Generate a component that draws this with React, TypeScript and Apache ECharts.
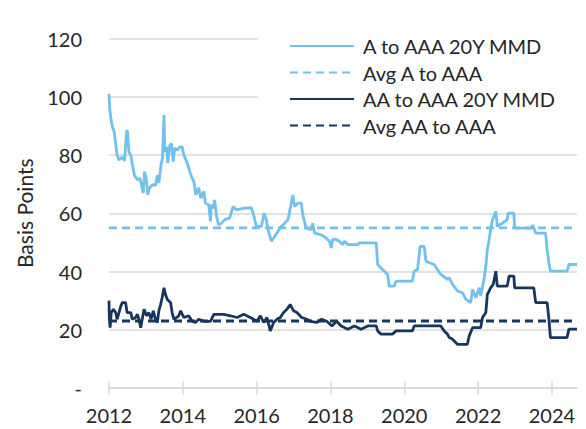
import React, { useEffect, useRef } from "react";
import * as echarts from "echarts";

const aYears = [2012.0, 2012.02, 2012.05, 2012.09, 2012.14, 2012.18, 2012.22, 2012.27, 2012.36, 2012.42, 2012.48, 2012.5, 2012.54, 2012.59, 2012.63, 2012.69, 2012.77, 2012.84, 2012.88, 2012.93, 2012.96, 2013.01, 2013.05, 2013.1, 2013.17, 2013.26, 2013.31, 2013.35, 2013.41, 2013.45, 2013.49, 2013.51, 2013.56, 2013.59, 2013.65, 2013.69, 2013.74, 2013.78, 2013.85, 2013.92, 2013.98, 2014.03, 2014.12, 2014.19, 2014.25, 2014.3, 2014.35, 2014.43, 2014.49, 2014.57, 2014.61, 2014.7, 2014.75, 2014.77, 2014.84, 2014.86, 2014.92, 2014.97, 2015.05, 2015.14, 2015.27, 2015.36, 2015.45, 2015.68, 2015.86, 2015.93, 2015.99, 2016.13, 2016.2, 2016.26, 2016.31, 2016.4, 2016.49, 2016.58, 2016.67, 2016.76, 2016.85, 2016.92, 2016.98, 2017.03, 2017.12, 2017.21, 2017.25, 2017.34, 2017.48, 2017.52, 2017.57, 2017.75, 2017.88, 2017.97, 2018.02, 2018.06, 2018.15, 2018.24, 2018.33, 2018.38, 2018.47, 2018.74, 2018.78, 2019.24, 2019.28, 2019.41, 2019.55, 2019.59, 2019.73, 2019.78, 2020.22, 2020.27, 2020.36, 2020.43, 2020.54, 2020.59, 2020.68, 2020.81, 2020.99, 2021.17, 2021.22, 2021.31, 2021.44, 2021.58, 2021.67, 2021.8, 2021.85, 2021.94, 2022.03, 2022.07, 2022.16, 2022.21, 2022.25, 2022.3, 2022.34, 2022.39, 2022.43, 2022.48, 2022.52, 2022.57, 2022.66, 2022.79, 2022.81, 2022.97, 2022.99, 2023.46, 2023.48, 2023.51, 2023.56, 2023.83, 2023.87, 2023.92, 2023.96, 2024.41, 2024.46, 2024.68];
const aValues = [101, 96, 92.6, 89.7, 88, 84, 80, 78.3, 79.3, 78, 88.5, 88, 81, 80, 77, 73, 71.5, 72, 69.7, 67, 74.3, 72, 66.3, 68.7, 69.7, 69.7, 73, 70.4, 76.6, 79, 93.7, 81, 82.8, 77.2, 83.4, 84, 77.7, 82.4, 81.7, 82.8, 82.8, 80, 77.2, 74.3, 72, 70.9, 66.3, 68.7, 65.2, 67.5, 63.5, 62.9, 57.2, 62.9, 61.8, 64.6, 58.5, 56, 56.6, 57.8, 58.4, 62.3, 61.2, 61.8, 61.8, 58.9, 55.5, 55.5, 60, 57.8, 54.4, 50.4, 52, 53.8, 55.5, 56.6, 57.8, 62.3, 66.3, 62.3, 63.5, 63.5, 59.5, 54.9, 54.4, 56.6, 53.2, 52.6, 51.5, 50.4, 48.1, 51, 51, 50.4, 49.2, 50.4, 49.2, 49.2, 49.8, 49.8, 42.4, 40.7, 39, 35, 35, 36.7, 36.7, 40.1, 40.7, 48.6, 48.6, 43.5, 43, 42.4, 39, 37.3, 37.8, 35.6, 33.3, 32.7, 30.4, 29.3, 33.8, 31, 34.4, 31.6, 37.3, 41.8, 47.5, 51, 54.4, 57.8, 58.9, 60.6, 55.5, 56, 56.6, 57.8, 60, 60, 54.9, 54.9, 56, 54.9, 53.2, 53.2, 47.5, 43, 40.1, 40.1, 42.4, 42.4];

const aaYears = [2012.0, 2012.01, 2012.03, 2012.06, 2012.12, 2012.18, 2012.22, 2012.32, 2012.36, 2012.45, 2012.49, 2012.59, 2012.63, 2012.72, 2012.77, 2012.81, 2012.86, 2012.9, 2012.95, 2013.02, 2013.08, 2013.14, 2013.2, 2013.26, 2013.31, 2013.35, 2013.4, 2013.44, 2013.49, 2013.53, 2013.58, 2013.67, 2013.71, 2013.76, 2013.89, 2013.94, 2014.03, 2014.16, 2014.25, 2014.34, 2014.43, 2014.57, 2014.75, 2014.84, 2015.11, 2015.29, 2015.47, 2015.65, 2015.83, 2016.01, 2016.1, 2016.19, 2016.28, 2016.37, 2016.46, 2016.55, 2016.64, 2016.73, 2016.82, 2016.91, 2017.0, 2017.09, 2017.22, 2017.36, 2017.45, 2017.63, 2017.76, 2017.9, 2018.04, 2018.17, 2018.29, 2018.47, 2018.65, 2018.83, 2019.01, 2019.24, 2019.28, 2019.37, 2019.68, 2019.78, 2020.22, 2020.27, 2020.99, 2021.08, 2021.17, 2021.22, 2021.3, 2021.44, 2021.71, 2021.76, 2021.85, 2022.07, 2022.12, 2022.21, 2022.25, 2022.34, 2022.41, 2022.48, 2022.52, 2022.79, 2022.84, 2022.97, 2022.99, 2023.51, 2023.56, 2023.87, 2023.92, 2023.96, 2024.41, 2024.46, 2024.68];
const aaValues = [30, 23.6, 20.7, 25.9, 27, 25.9, 23.6, 28.1, 29.3, 29.3, 25.9, 25.9, 23.6, 24.2, 25.3, 23.6, 20.7, 23.6, 27, 24.8, 25.9, 23.6, 26.5, 23.6, 22.5, 26.5, 28.7, 31, 34.4, 32.1, 30.4, 29.3, 25.9, 23.6, 24.8, 26.5, 24.2, 24.8, 22.9, 22.5, 23.6, 22.9, 22.9, 25.3, 25.3, 24.8, 24.2, 25.3, 24.2, 22.9, 24.8, 22.5, 24.2, 19.6, 22.5, 23.6, 24.2, 25.9, 27, 28.7, 26.5, 25.9, 24.2, 23.6, 22.9, 22.5, 23.6, 22.9, 21.3, 22.9, 21.3, 20.2, 21.3, 20.2, 21.3, 21.3, 19.6, 18.5, 18.5, 19.6, 19.6, 21.3, 21.3, 19.6, 18.5, 17.3, 16.8, 15, 15, 17.9, 20.7, 20.7, 24.2, 25.9, 32.1, 34.4, 35.6, 40.1, 35, 35, 38.4, 38.4, 34.4, 34.4, 29.3, 29.3, 23.6, 17.3, 17.3, 20.2, 20.2];

const avgA = 55;
const avgAA = 23;
const xStart = 2012;
const xEnd = 2024.68;
const xTicks = [2012, 2014, 2016, 2018, 2020, 2022, 2024];
const yTicks = [0, 20, 40, 60, 80, 100, 120];
const seriesNames = ["A to AAA 20Y MMD", "Avg A to AAA", "AA to AAA 20Y MMD", "Avg AA to AAA"];

const LIGHT = "#72C0EC";
const DARK = "#17365D";
const FONT = "Lato";
const TEXT = "#262626";
const FS = 20;

export default function App() {
  const ref = useRef<HTMLDivElement>(null);
  useEffect(() => {
    if (!ref.current) return;
    const chart = echarts.init(ref.current, null, { renderer: "svg" });
    const zip = (xs: number[], ys: number[]) => xs.map((x, i) => [x, ys[i]]);
    const avgLine = (v: number) => [[xStart, v], [xEnd, v]];
    chart.setOption({
      animation: false,
      backgroundColor: "#fff",
      textStyle: { fontFamily: FONT },
      grid: { left: 109, right: 9, top: 38.5, bottom: 41, containLabel: false },
      legend: {
        orient: "vertical",
        left: 258,
        top: 26,
        padding: [10, 30, 10, 31],
        backgroundColor: "#fff",
        itemWidth: 64,
        itemHeight: 20,
        itemGap: 6.5,
        itemStyle: { opacity: 0 },
        textStyle: { fontFamily: FONT, fontSize: FS, color: TEXT, padding: [0, 0, 0, 4] },
        data: seriesNames,
      },
      xAxis: [
        {
          type: "value",
          min: xStart,
          max: xEnd,
          interval: 2,
          splitLine: { show: false },
          axisLine: { show: true, lineStyle: { color: "#D9D9D9", width: 1.5 } },
          axisTick: { show: true, inside: false, length: 7, customValues: xTicks, lineStyle: { color: "#D9D9D9", width: 1.5 } },
          axisLabel: {
            customValues: xTicks,
            formatter: (v: number) => String(v),
            fontFamily: FONT,
            fontSize: FS,
            color: TEXT,
            margin: 17,
          },
        },
        {
          type: "value",
          position: "bottom",
          min: xStart,
          max: xEnd,
          interval: 2,
          splitLine: { show: false },
          axisLine: { show: false },
          axisTick: { show: true, inside: true, length: 7, customValues: xTicks, lineStyle: { color: "#D9D9D9", width: 1.5 } },
          axisLabel: { show: false },
        },
      ],
      yAxis: {
        type: "value",
        min: 0,
        max: 120,
        interval: 20,
        name: "Basis Points",
        nameLocation: "middle",
        nameRotate: 90,
        nameGap: 74,
        nameTextStyle: { fontFamily: FONT, fontSize: 21, color: TEXT },
        axisLine: { show: false },
        axisTick: { show: false },
        splitLine: { lineStyle: { color: "#D9D9D9", width: 1.5 } },
        axisLabel: {
          customValues: yTicks,
          formatter: (v: number) => (v === 0 ? "-" : String(v)),
          fontFamily: FONT,
          fontSize: FS,
          color: TEXT,
          margin: 27,
        },
      },
      series: [
        {
          name: seriesNames[0],
          type: "line",
          data: zip(aYears, aValues),
          symbol: "none",
          lineStyle: { color: LIGHT, width: 2.8 },
          itemStyle: { color: LIGHT },
          z: 2,
        },
        {
          name: seriesNames[1],
          type: "line",
          data: avgLine(avgA),
          symbol: "none",
          lineStyle: { color: LIGHT, width: 2.8, type: [8, 5] },
          itemStyle: { color: LIGHT },
          z: 3,
        },
        {
          name: seriesNames[2],
          type: "line",
          data: zip(aaYears, aaValues),
          symbol: "none",
          lineStyle: { color: DARK, width: 2.8 },
          itemStyle: { color: DARK },
          z: 4,
        },
        {
          name: seriesNames[3],
          type: "line",
          data: avgLine(avgAA),
          symbol: "none",
          lineStyle: { color: DARK, width: 2.8, type: [8, 5] },
          itemStyle: { color: DARK },
          z: 5,
        },
      ],
    });
    return () => chart.dispose();
  }, []);
  return <div ref={ref} style={{ width: 586, height: 429, position: "absolute", left: 0, top: 0 }} />;
}
